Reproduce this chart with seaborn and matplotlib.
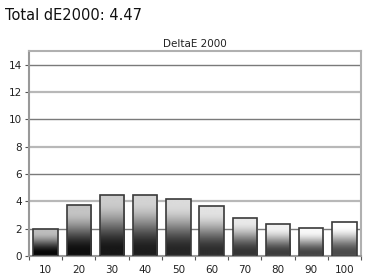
import numpy as np
import pandas as pd
import matplotlib
matplotlib.use("Agg")
import matplotlib.pyplot as plt
import seaborn as sns

categories = ["10", "20", "30", "40", "50", "60", "70", "80", "90", "100"]
values = [1.95, 3.72, 4.5, 4.5, 4.18, 3.65, 2.8, 2.34, 2.02, 2.48]
yticks = [0, 2, 4, 6, 8, 10, 12, 14]
title_main = "Total dE2000: 4.47"
title_plot = "DeltaE 2000"

sns.set_style("white")
plt.rcParams['font.family'] = ['DejaVu Sans']

fig = plt.figure(figsize=(3.79, 2.80), dpi=100)
ax = fig.add_axes([29/379, 1-256/280, (361-29)/379, (256-51)/280])

df = pd.DataFrame({"cat": categories, "val": values})
sns.barplot(data=df, x="cat", y="val", color="gray", width=0.74,
            edgecolor="#3a3a3a", linewidth=1.2, ax=ax, zorder=3)

# gradient fill per bar
n = len(ax.patches)
s = np.linspace(0, 1, 200)
prof = np.clip((s - 0.12) / 0.78, 0, 1)
prof = prof * prof * (3 - 2 * prof)
for i, p in enumerate(ax.patches):
    top = 0.74 + 0.26 * i / (n - 1)
    bot = 0.03 + 0.27 * i / (n - 1)
    col = top - (top - bot) * prof
    img = col.reshape(-1, 1)
    x0, y0 = p.get_x(), p.get_y()
    w, h = p.get_width(), p.get_height()
    p.set_facecolor("none")
    im = ax.imshow(img, cmap="gray", vmin=0, vmax=1, aspect="auto",
                   extent=[x0, x0 + w, y0, y0 + h], origin="upper",
                   zorder=2.5, interpolation="bilinear")
    im.set_clip_path(p)
ax.set_aspect("auto")
ax.set_xlim(-0.5, len(categories) - 0.5)
ax.set_ylim(0, 15)

# gridlines
for y in yticks[1:]:
    if y % 4 == 0:
        ax.axhline(y, color="#b8b8b8", lw=1.6, zorder=1)
    else:
        ax.axhline(y, color="#7a7a7a", lw=1.0, zorder=1)

for sp in ax.spines.values():
    sp.set_color("#b0b0b0")
    sp.set_linewidth(1.5)
ax.spines["left"].set_color("#999999")
ax.spines["bottom"].set_color("#999999")

ax.set_yticks(yticks)
ax.set_yticklabels([str(v) for v in yticks], fontsize=7.5, color="#222222")
ax.tick_params(axis="y", left=True, length=3, width=0.8, color="#555555", pad=2)

ax.set_xticks(range(len(categories)))
ax.set_xticklabels(categories, fontsize=7.5, color="#222222")
ax.tick_params(axis="x", bottom=False, pad=3)
ax.set_xticks(np.arange(-0.5, len(categories)), minor=True)
ax.tick_params(axis="x", which="minor", bottom=True, length=3, width=0.8, color="#555555")

ax.set_xlabel("")
ax.set_ylabel("")
ax.set_title(title_plot, fontsize=7.5, pad=3, color="#222222")
fig.text(5/379, 1-15/280, title_main, fontsize=10.5, va="center", ha="left", color="#111111")

fig.savefig("out.png", dpi=100)
